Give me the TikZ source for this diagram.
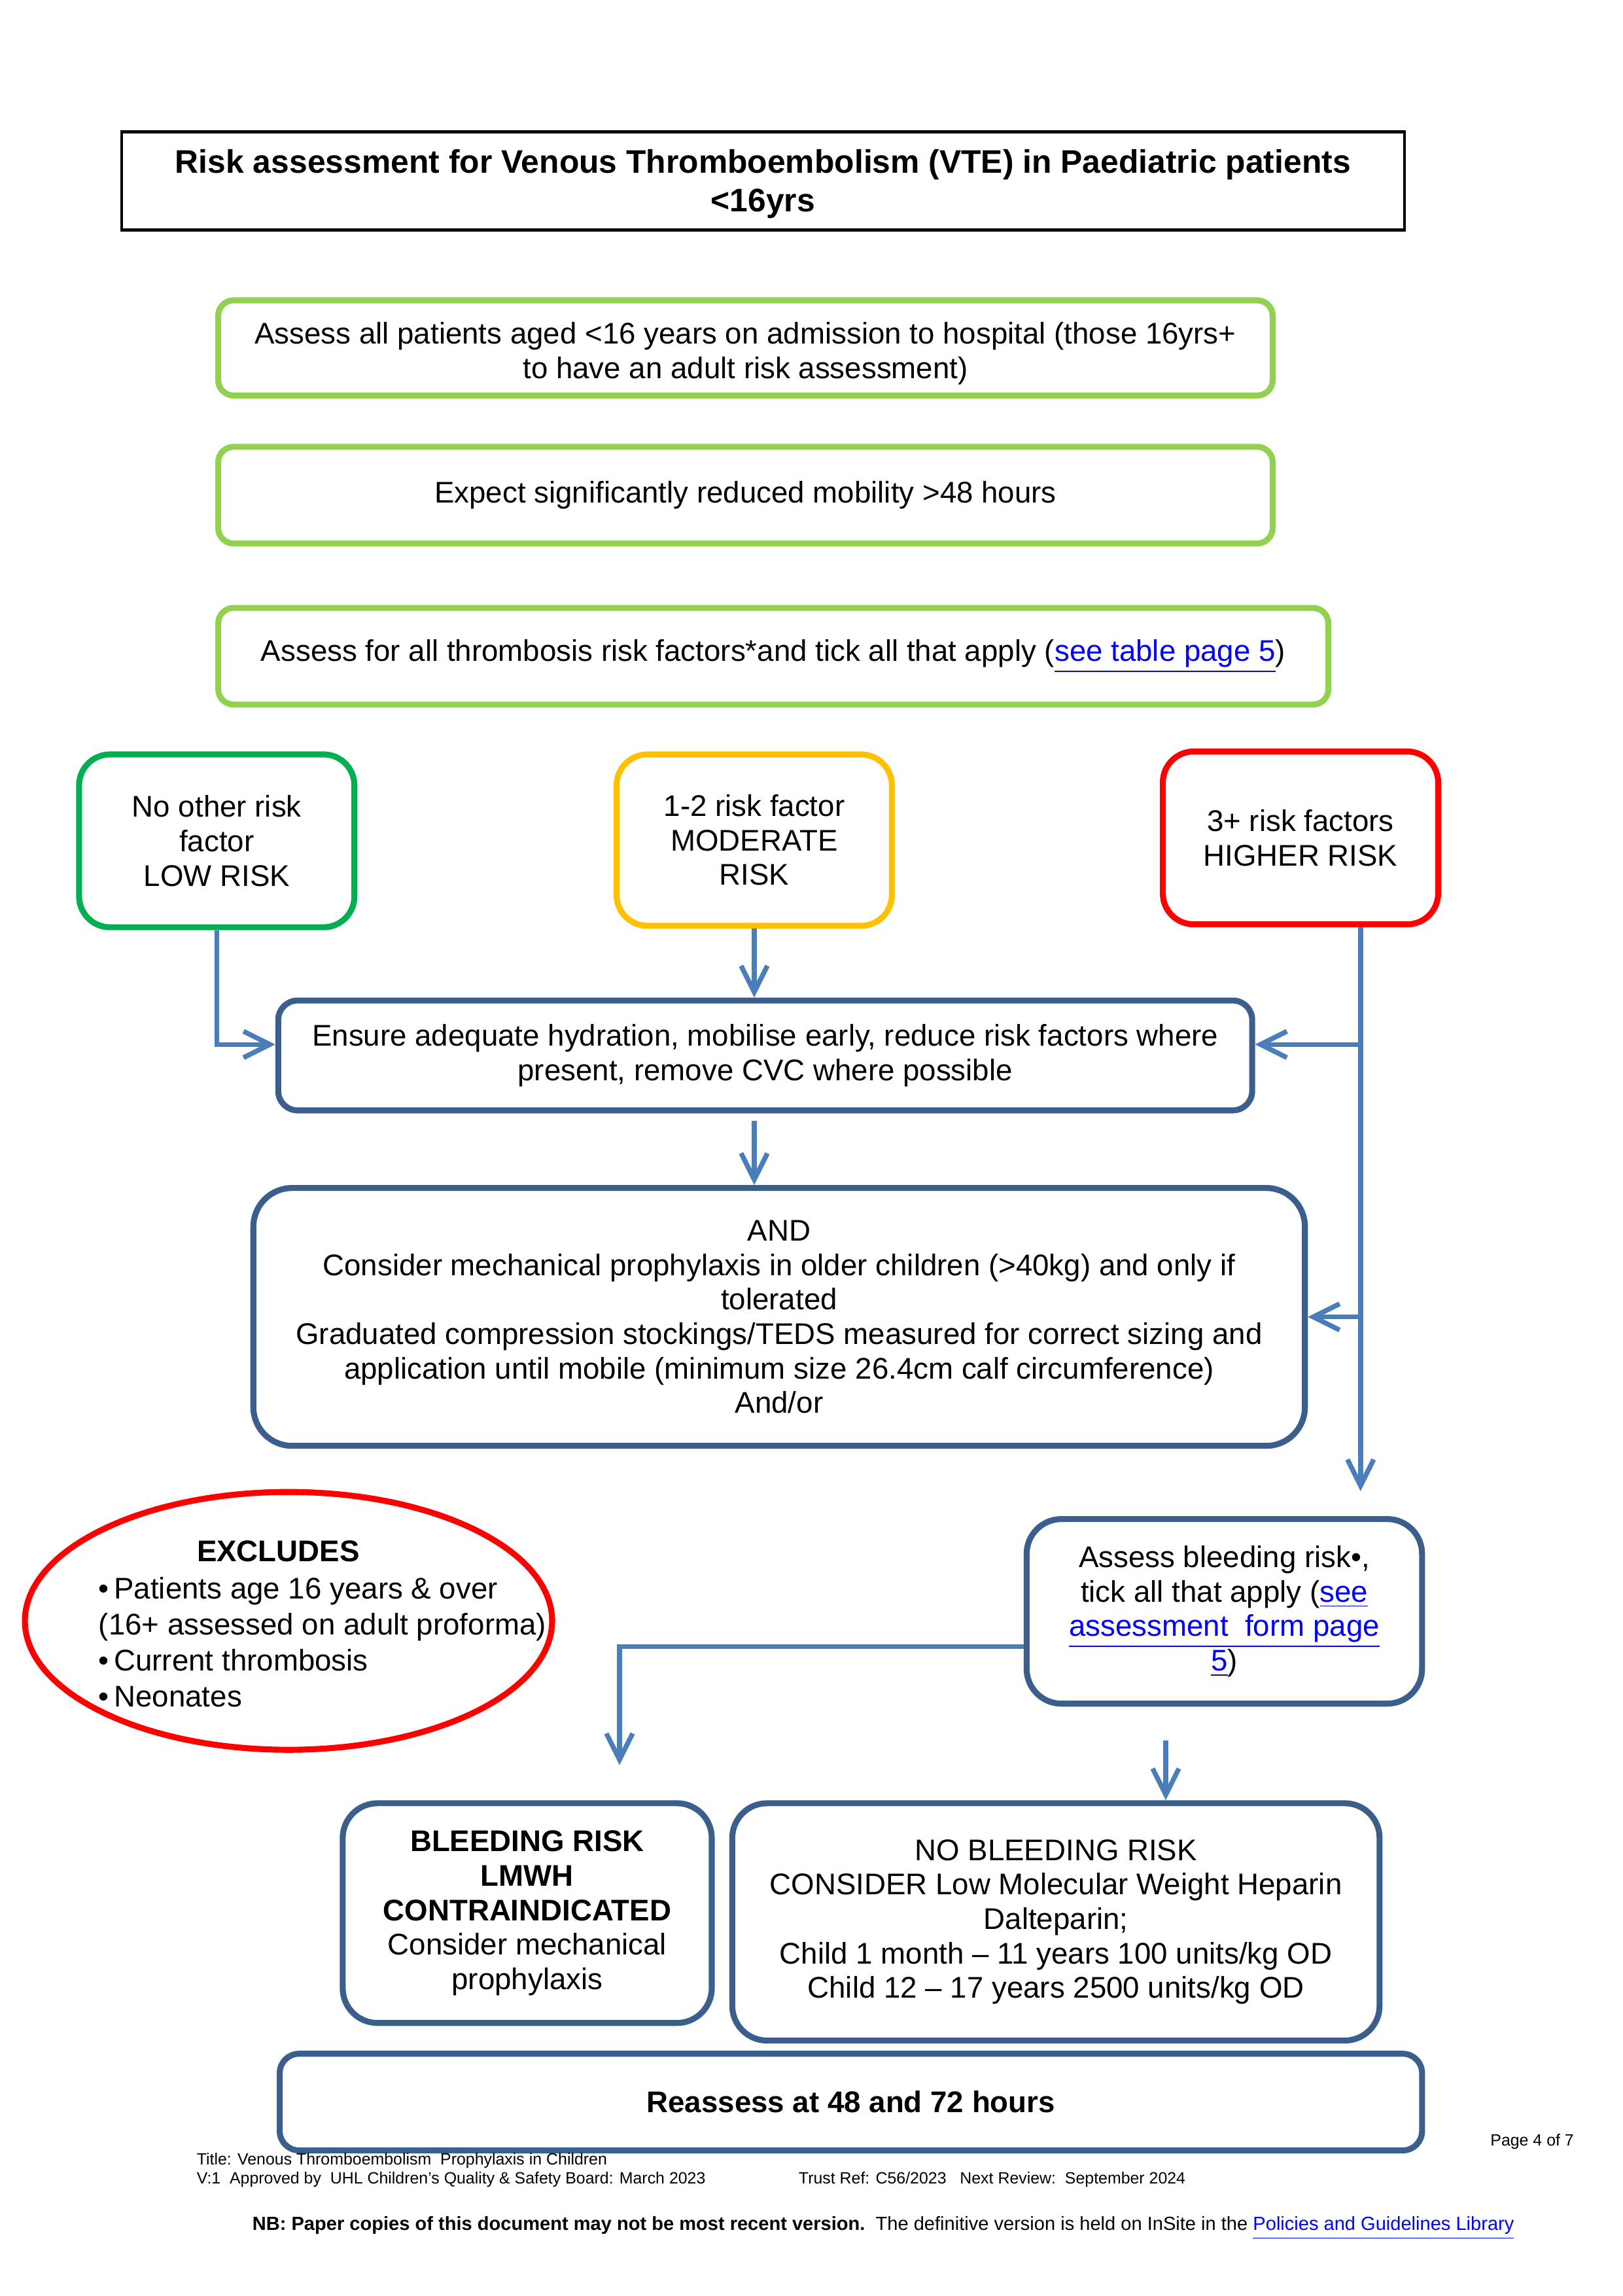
\documentclass[tikz,border=0pt]{standalone}
\usepackage{fontspec}
\setmainfont{Liberation Sans}
\usetikzlibrary{arrows.meta,shapes.geometric,calc}
\definecolor{lightgreen}{HTML}{92D050}
\definecolor{lowgreen}{HTML}{00B050}
\definecolor{amber}{HTML}{FFC000}
\definecolor{alarmred}{HTML}{FF0000}
\definecolor{boxblue}{HTML}{3A5F8C}
\definecolor{arrowblue}{HTML}{4A7EBB}
\definecolor{linkblue}{HTML}{0000FF}
\newcommand{\lnk}[1]{{\color{linkblue}\underline{#1}}}
\newcommand{\lowered}[2]{\raisebox{-#1}[\height][\depth]{\begin{tabular}{@{}c@{}}#2\end{tabular}}}
\def\pxu{0.01895cm}
\tikzset{
  size/.style 2 args={minimum width=#1*\pxu, minimum height=#2*\pxu},
  txt/.style={font=\fontsize{11}{12.7}\selectfont, align=center, inner sep=0pt},
  greenbox/.style={txt, draw=lightgreen, line width=2.2pt, rounded corners=0.2cm},
  riskbox/.style={txt, line width=2.2pt, rounded corners=0.4cm},
  bluebox/.style={txt, draw=boxblue, line width=2.2pt, rounded corners=#1},
  bluebox/.default=0.25cm,
  arrow/.style={draw=arrowblue, line width=1.8pt, -{Straight Barb[length=3.4mm,width=3.4mm]}},
  foot/.style={font=\fontsize{6}{7}\selectfont, inner sep=0pt, anchor=west}
}

\begin{document}
\begin{tikzpicture}[x=\pxu, y=-\pxu]
\useasboundingbox (0,0) rectangle (1108.2,1567.4);

\node[draw, line width=1pt, size={876}{67}, align=center, inner sep=0pt,
  font=\fontsize{12}{14}\selectfont\bfseries] (title) at (521,123.5)
  {\lowered{0.05cm}{Risk assessment for Venous Thromboembolism (VTE) in Paediatric patients\\<16yrs}};

\node[greenbox, size={720}{65}] (assessall) at (509,237.5)
  {\lowered{0.08cm}{Assess all patients aged <16 years on admission to hospital (those 16yrs+\\to have an adult risk assessment)}};
\node[greenbox, size={720}{66}] (expect) at (509,338)
  {Expect significantly reduced mobility >48 hours};
\node[greenbox, size={758}{66}] (riskf) at (528,448)
  {Assess for all thrombosis risk factors*and tick all that apply (\lnk{see table page 5})};

\node[riskbox, draw=lowgreen, size={188}{118}] (low) at (148,574)
  {No other risk\\factor\\LOW RISK};
\node[riskbox, draw=amber, size={188}{117}] (moderate) at (515,573.5)
  {1-2 risk factor\\MODERATE\\RISK};
\node[riskbox, draw=alarmred, size={188}{118}] (higher) at (888,572)
  {3+ risk factors\\HIGHER RISK};

\node[bluebox, size={665}{75}] (ensure) at (522.5,720.5)
  {Ensure adequate hydration, mobilise early, reduce risk factors where\\present, remove CVC where possible};
\node[bluebox=0.5cm, size={718}{176}] (and) at (532,899)
  {AND\\Consider mechanical prophylaxis in older children (>40kg) and only if\\tolerated\\
   Graduated compression stockings/TEDS measured for correct sizing and\\
   application until mobile (minimum size 26.4cm calf circumference)\\And/or};

\node[ellipse, draw=alarmred, line width=2.2pt, size={360}{176}] (excl) at (197,1106.5) {};
\node[txt, font=\fontsize{11}{12.7}\selectfont\bfseries] (excltitle) at (190,1059) {EXCLUDES};
\node[txt, align=left, anchor=west, font=\fontsize{11}{13.3}\selectfont] (excllist) at (67,1121)
  {•\,Patients age 16 years \& over\\(16+ assessed on adult proforma)\\•\,Current thrombosis\\•\,Neonates};

\node[bluebox=0.45cm, size={270}{126}] (assess) at (836,1100)
  {Assess bleeding risk•,\\tick all that apply (\lnk{see}\\\lnk{assessment\ \ form page}\\\lnk{5})};

\node[bluebox=0.45cm, size={252}{150}] (bleed) at (360,1306)
  {\textbf{BLEEDING RISK}\\\textbf{LMWH}\\\textbf{CONTRAINDICATED}\\Consider mechanical\\prophylaxis};
\node[bluebox=0.45cm, size={442}{162}] (nobleed) at (721,1312)
  {NO BLEEDING RISK\\CONSIDER Low Molecular Weight Heparin\\Dalteparin;\\
   Child 1 month – 11 years 100 units/kg OD\\Child 12 – 17 years 2500 units/kg OD};

\node[bluebox, size={780}{66}, font=\fontsize{11}{12.7}\selectfont\bfseries] (reassess) at (581,1435)
  {Reassess at 48 and 72 hours};

\coordinate (hy) at (0,713);
\coordinate (trunkend) at (929,1018);
\coordinate (splity) at (0,1124);
\coordinate (bleedend) at (423,1205);
\coordinate (nbstart) at (796,1188);

\draw[arrow] (low.south) |- (ensure.west |- hy);
\draw[arrow] (moderate.south) -- (moderate.south |- ensure.north);
\draw[arrow] (higher.south -| trunkend) -- (trunkend);
\draw[arrow] (trunkend |- hy) -- (ensure.east |- hy);
\draw[arrow] (trunkend |- and.east) -- (and.east);
\draw[arrow, shorten <=0.1cm] (ensure.south -| moderate.south) -- (and.north -| moderate.south);
\draw[arrow] (assess.west |- splity) -| (bleedend);
\draw[arrow] (nbstart) -- (nbstart |- nobleed.north);

\node[foot, anchor=east] (pageno) at (1075,1462) {Page 4 of 7};
\node[foot] (doctitle) at (134,1475) {Title: Venous Thromboembolism\ \ Prophylaxis in Children};
\node[foot] (approved) at (134,1488) {V:1\ \ Approved by\ \ UHL Children’s Quality \& Safety Board: March 2023};
\node[foot] (trustref) at (545,1488) {Trust Ref: C56/2023\ \ \ Next Review:\ \ September 2024};
\node[foot, font=\fontsize{7}{8}\selectfont] (nb) at (172,1521)
  {\textbf{NB: Paper copies of this document may not be most recent version.}\ \ The definitive version is held on InSite in the \lnk{Policies and Guidelines Library}};
\end{tikzpicture}
\end{document}
